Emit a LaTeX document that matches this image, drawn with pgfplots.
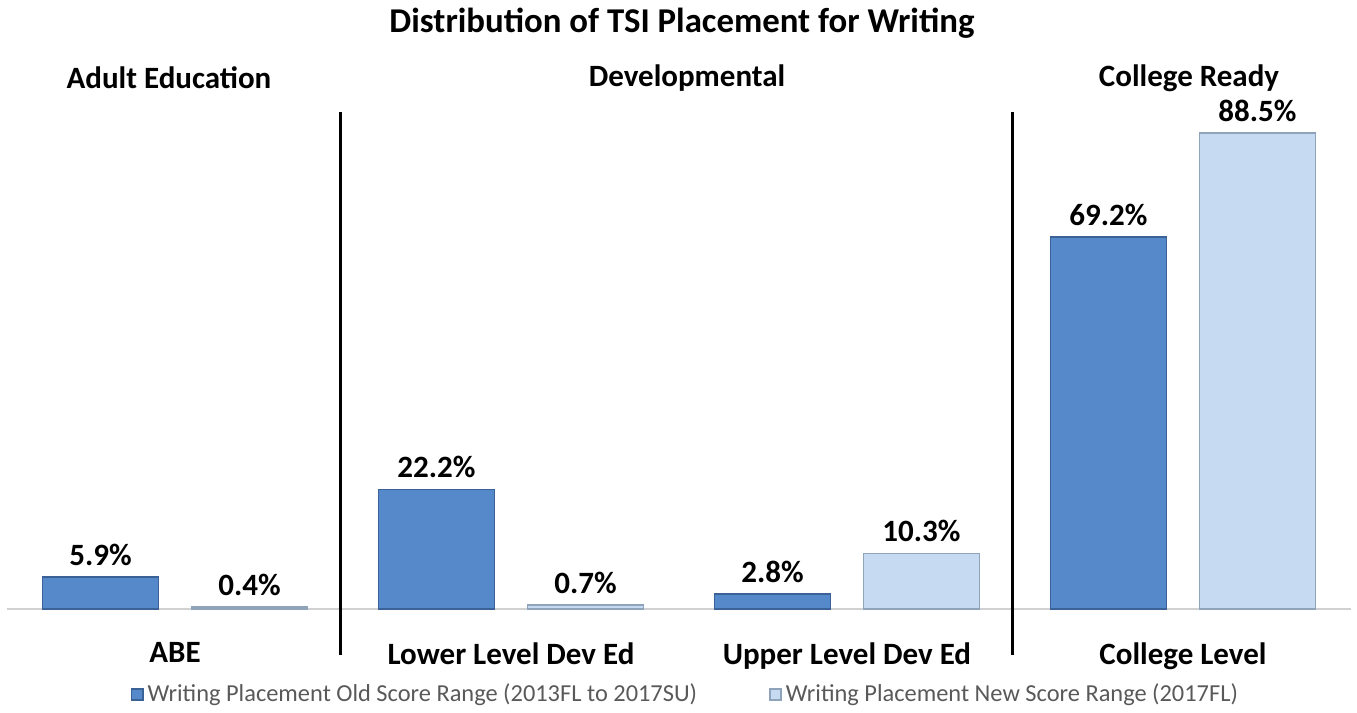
\documentclass[border=0pt]{standalone}
\usepackage{fontspec}
\setmainfont{Carlito}
\usepackage{pgfplots}
\pgfplotsset{compat=1.18}
\definecolor{oldfill}{HTML}{5589C9}
\definecolor{olddraw}{HTML}{3B6296}
\definecolor{newfill}{HTML}{C6DAF1}
\definecolor{newdraw}{HTML}{8FA3BB}
\definecolor{legtext}{HTML}{595959}
\begin{document}
\begin{tikzpicture}
\useasboundingbox (-3.5pt,-52pt) rectangle (675pt,304.5pt);
\begin{axis}[
  at={(0pt,0pt)}, anchor=south west,
  scale only axis, width=672pt, height=254.5pt,
  xmin=-0.5, xmax=3.5, ymin=0, ymax=94.63,
  clip=false,
  ybar=16.5pt, bar width=58pt,
  axis y line=none,
  axis x line*=bottom,
  x axis line style={draw=black!18, line width=0.8pt, -},
  xtick={0,1,2,3},
  xticklabels={ABE, Lower Level Dev Ed, Upper Level Dev Ed, College Level},
  xtick style={draw=none},
  xticklabel style={font=\bfseries\fontsize{15.5}{18}\selectfont, text=black, yshift=-9pt},
  ytick=\empty,
  /pgf/number format/assume math mode=true,
  nodes near coords={\pgfmathprintnumber[fixed,fixed zerofill,precision=1]{\pgfplotspointmeta}\%},
  nodes near coords style={font=\bfseries\fontsize{15.5}{18}\selectfont, text=black, yshift=2pt},
  legend style={at={(0.5055,-0.168)}, anchor=center, draw=none, fill=none,
    legend columns=2, font=\fontsize{12.2}{14}\selectfont, text=legtext,
    /tikz/every even column/.append style={column sep=34pt}},
  legend image code/.code={\draw[#1] (0pt,-2.8pt) rectangle (5.6pt,2.8pt);},
]
\addplot[fill=oldfill, draw=olddraw, line width=0.8pt]
  coordinates {(0,5.9) (1,22.2) (2,2.8) (3,69.2)};
\addlegendentry{Writing Placement Old Score Range (2013FL to 2017SU)}
\addplot[fill=newfill, draw=newdraw, line width=0.8pt]
  coordinates {(0,0.4) (1,0.7) (2,10.3) (3,88.5)};
\addlegendentry{Writing Placement New Score Range (2017FL)}
\draw[black, line width=1.5pt] (axis cs:0.494,92.4) -- (axis cs:0.494,-8.55);
\draw[black, line width=1.5pt] (axis cs:2.494,92.4) -- (axis cs:2.494,-8.55);
\node[font=\bfseries\fontsize{17.4}{20}\selectfont] at (axis cs:1.509,108.9) {Distribution of TSI Placement for Writing};
\node[font=\bfseries\fontsize{15.5}{18}\selectfont] at (axis cs:-0.018,98.7) {Adult Education};
\node[font=\bfseries\fontsize{15.5}{18}\selectfont] at (axis cs:1.524,98.7) {Developmental};
\node[font=\bfseries\fontsize{15.5}{18}\selectfont] at (axis cs:3.018,98.7) {College Ready};
\end{axis}
\end{tikzpicture}
\end{document}
